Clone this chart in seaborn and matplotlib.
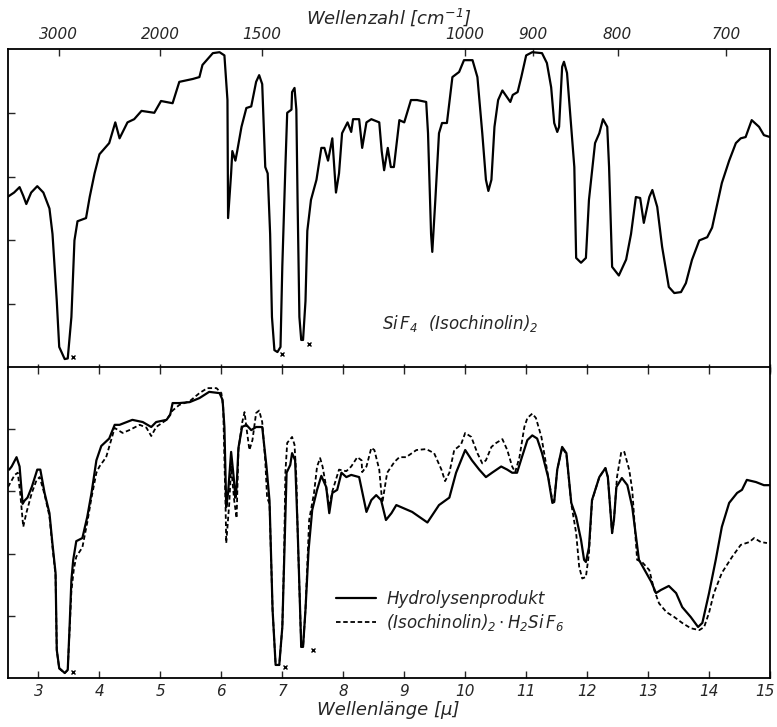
import seaborn as sns
import matplotlib.pyplot as plt
import matplotlib.transforms as mtransforms
import pandas as pd
import numpy as np

# -----------------------------------------
# Spectrum data (wavelength in micron, transmission in %)
# -----------------------------------------

top_um = [2.49, 2.60, 2.69, 2.75, 2.80, 2.88, 2.98, 3.08, 3.18, 3.23, 3.30, 3.34, 3.43, 3.48,
          3.54, 3.59, 3.64, 3.78, 3.84, 3.92, 4.00, 4.16, 4.26, 4.33, 4.46, 4.57, 4.69, 4.90,
          5.01, 5.20, 5.31, 5.53, 5.64, 5.69, 5.86, 5.97, 6.05, 6.10, 6.11, 6.16, 6.18, 6.23,
          6.26, 6.33, 6.41, 6.49, 6.57, 6.62, 6.67, 6.72, 6.76, 6.80, 6.83, 6.87, 6.92, 6.97,
          7.00, 7.05, 7.08, 7.15, 7.16, 7.20, 7.23, 7.25, 7.28, 7.31, 7.34, 7.38, 7.41, 7.47,
          7.56, 7.64, 7.69, 7.75, 7.82, 7.88, 7.93, 7.98, 8.07, 8.13, 8.16, 8.26, 8.31, 8.38,
          8.46, 8.59, 8.63, 8.67, 8.73, 8.78, 8.83, 8.92, 9.00, 9.11, 9.21, 9.36, 9.39, 9.44,
          9.46, 9.51, 9.57, 9.62, 9.70, 9.79, 9.90, 9.98, 10.12, 10.20, 10.28, 10.34, 10.38,
          10.43, 10.48, 10.54, 10.61, 10.74, 10.78, 10.86, 10.92, 11.00, 11.10, 11.26, 11.34,
          11.41, 11.46, 11.51, 11.54, 11.59, 11.62, 11.67, 11.79, 11.82, 11.90, 11.98, 12.03,
          12.13, 12.20, 12.26, 12.33, 12.36, 12.41, 12.52, 12.64, 12.72, 12.80, 12.87, 12.93,
          13.02, 13.07, 13.15, 13.23, 13.34, 13.43, 13.54, 13.62, 13.72, 13.84, 13.97, 14.05,
          14.16, 14.21, 14.33, 14.44, 14.52, 14.60, 14.70, 14.82, 14.90, 15.00]
top_T = [53.6, 55, 56.7, 54, 51.4, 55, 57, 55, 50, 42, 21, 6.6, 2.8, 3,
         16, 40, 46, 47, 53.6, 61, 67, 70.5, 77, 72, 77, 78, 80.6, 80,
         83.7, 83, 89.7, 90.6, 91.2, 95, 98.7, 99, 98, 84, 47, 61, 68, 65,
         68, 75.6, 81.5, 82, 89.7, 91.8, 89, 63, 61, 42, 16, 5.6, 5, 6.6,
         32, 63, 80, 81, 86.5, 87.8, 81, 52.7, 16, 8.8, 8.8, 21, 43, 52.7,
         59, 69, 69, 65, 72, 55, 61, 73.6, 77, 74, 78, 78, 69, 77,
         78, 77, 68, 62, 69, 63, 63, 77.7, 77, 84, 84, 83.4, 73.6, 42,
         36.4, 52.7, 73.6, 76.8, 76.8, 91.2, 92.8, 96.5, 96.5, 91.2, 73.6, 59, 55.5,
         59, 75.6, 84, 87, 83.4, 85.6, 86.5, 91.2, 98, 99, 98.7, 95.6,
         88, 76.8, 74, 75.6, 94.4, 96, 92.5, 63, 34.5, 33, 34.5, 52.7,
         70.5, 73.6, 78, 75.6, 63, 31.7, 29, 34, 42, 53.6, 53.3, 45.5,
         53.6, 55.8, 50.5, 38, 25.4, 23.5, 23.8, 26.6, 33.9, 40, 41, 44,
         53.6, 58, 65, 70.5, 72, 72.4, 77.7, 75.6, 73, 72.4]

hyd_um = [2.52, 2.56, 2.64, 2.69, 2.74, 2.77, 2.82, 2.89, 2.98, 3.03, 3.10, 3.18, 3.23, 3.28,
          3.30, 3.34, 3.43, 3.48, 3.51, 3.54, 3.57, 3.62, 3.72, 3.80, 3.87, 3.95, 4.03, 4.16,
          4.25, 4.33, 4.54, 4.71, 4.85, 4.93, 5.10, 5.16, 5.20, 5.31, 5.48, 5.64, 5.80, 5.97,
          6.02, 6.05, 6.08, 6.11, 6.16, 6.20, 6.23, 6.25, 6.28, 6.34, 6.41, 6.49, 6.57, 6.67,
          6.74, 6.79, 6.84, 6.89, 6.95, 7.00, 7.03, 7.07, 7.13, 7.16, 7.21, 7.25, 7.31, 7.34,
          7.38, 7.43, 7.49, 7.57, 7.64, 7.72, 7.77, 7.82, 7.90, 7.97, 8.05, 8.13, 8.26, 8.38,
          8.46, 8.54, 8.62, 8.70, 8.79, 8.87, 9.13, 9.38, 9.57, 9.74, 9.85, 10.00, 10.11, 10.23,
          10.34, 10.44, 10.59, 10.69, 10.77, 10.85, 10.93, 11.02, 11.10, 11.18, 11.26, 11.36,
          11.43, 11.46, 11.51, 11.59, 11.66, 11.74, 11.82, 11.90, 11.95, 11.98, 12.03, 12.08,
          12.20, 12.30, 12.34, 12.39, 12.41, 12.44, 12.48, 12.57, 12.66, 12.74, 12.85, 12.97,
          13.05, 13.13, 13.21, 13.34, 13.46, 13.56, 13.70, 13.82, 13.89, 14.00, 14.11, 14.21,
          14.33, 14.46, 14.54, 14.62, 14.77, 14.90, 15.00]
hyd_T = [67, 68, 71, 68, 56, 57, 58, 61.4, 67, 67, 59.5, 53, 43, 33.8,
         9, 3.2, 1.6, 2.6, 16.4, 31.5, 38, 44, 45, 51.8, 59.5, 70, 74.6, 77,
         81.4, 81.4, 83, 82.3, 80.7, 82.3, 83, 84.6, 88.4, 88.4, 88.7, 90, 92, 91.6,
         89.4, 80.7, 55, 59.5, 72.7, 65, 58, 61.4, 74, 80.7, 81.4, 79.7, 80.7, 80.7,
         68, 57, 22, 4.2, 4.2, 16.4, 38, 66, 68.5, 72.3, 70, 48.6, 10, 10,
         22, 41, 54, 60.5, 65, 61.4, 53, 59.5, 60.5, 66, 64.6, 65.3, 64.6, 53.4,
         57.2, 58.8, 57.2, 50.8, 53, 55.6, 53.4, 50, 55.6, 58, 66, 73.3, 70, 67,
         64.6, 66, 68, 67, 66, 66, 71, 76.5, 78, 77, 72.3, 64.6,
         56.3, 56.6, 67, 74.3, 72.3, 56.3, 51.8, 44.4, 38, 37.3, 42, 57.2,
         64.6, 67.5, 64.6, 51.8, 46.6, 50.8, 61.4, 64.3, 62, 55, 38, 33.8,
         31, 27.3, 28.3, 29.6, 27.3, 22.8, 19.6, 16.4, 17.7, 27.3, 38, 48.6,
         56.3, 59.5, 60.5, 63.7, 63, 62, 62]

iso_um = [2.50, 2.61, 2.66, 2.70, 2.75, 2.80, 2.89, 2.97, 3.02, 3.10, 3.18, 3.23, 3.28, 3.30,
          3.34, 3.43, 3.48, 3.51, 3.54, 3.58, 3.62, 3.72, 3.80, 3.87, 3.95, 4.00, 4.11, 4.20,
          4.25, 4.38, 4.49, 4.66, 4.77, 4.85, 4.93, 5.10, 5.20, 5.31, 5.48, 5.64, 5.77, 5.92,
          6.00, 6.03, 6.07, 6.08, 6.13, 6.16, 6.21, 6.25, 6.28, 6.34, 6.38, 6.41, 6.46, 6.51,
          6.57, 6.62, 6.67, 6.72, 6.75, 6.79, 6.84, 6.89, 6.95, 7.00, 7.03, 7.05, 7.08, 7.16,
          7.20, 7.23, 7.25, 7.31, 7.34, 7.38, 7.44, 7.52, 7.57, 7.62, 7.66, 7.72, 7.77, 7.82,
          7.93, 8.05, 8.13, 8.23, 8.30, 8.31, 8.38, 8.46, 8.51, 8.59, 8.64, 8.72, 8.84, 8.92,
          9.03, 9.20, 9.36, 9.49, 9.61, 9.67, 9.74, 9.82, 9.93, 10.00, 10.10, 10.20, 10.28,
          10.34, 10.43, 10.51, 10.61, 10.69, 10.77, 10.82, 10.89, 10.97, 11.02, 11.10, 11.16,
          11.25, 11.36, 11.43, 11.46, 11.51, 11.59, 11.66, 11.74, 11.82, 11.87, 11.92, 11.98,
          12.03, 12.08, 12.20, 12.30, 12.34, 12.39, 12.41, 12.44, 12.49, 12.56, 12.61, 12.69,
          12.74, 12.82, 12.90, 13.02, 13.10, 13.18, 13.30, 13.43, 13.56, 13.70, 13.84, 13.92,
          14.00, 14.08, 14.21, 14.38, 14.52, 14.66, 14.74, 14.85, 14.95]
iso_T = [61.4, 65.3, 66, 59.5, 48.6, 53, 59.5, 63.7, 64.6, 59, 52, 42, 33, 9,
         3, 1.6, 2.6, 15, 28, 35, 39, 42, 50, 58, 66, 68, 71, 77,
         80.4, 78.8, 79.7, 81.4, 80.5, 77.8, 80.7, 83, 86, 87.8, 89, 91.6, 93.2, 93.2,
         91.6, 87, 54, 43.4, 56.3, 68, 57.2, 51.4, 73.3, 82, 85.5, 80.7, 73.3, 76.5,
         85.2, 86, 82.3, 70, 58, 56, 22, 4.2, 4.2, 16.4, 40, 66, 75.6, 77.5,
         75, 64.6, 48, 10, 10, 22, 50.8, 59.5, 68, 70.7, 68, 61.4, 55, 60,
         67, 66.5, 68, 71, 70, 66.2, 68, 74, 73.3, 67, 56.3, 66, 69.5, 71,
         71, 73.3, 73.6, 72.3, 67, 63.3, 66, 73.3, 75, 78.8, 77.5, 72.3, 69,
         70, 74.3, 75.6, 76.8, 73.3, 68, 66.2, 71, 80.7, 83.6, 85, 83.6,
         77.5, 65, 57, 57, 67, 74, 72, 56, 46.6, 35.7, 32, 32.5,
         40, 57, 64.6, 67.5, 64.6, 51.8, 46.6, 50.8, 64.6, 72.7, 72.7, 67,
         60.5, 38, 37.3, 34.7, 28.3, 24, 21.2, 19.6, 17.7, 16, 15.4, 16.4,
         21, 27.3, 33.8, 39, 42.8, 43.7, 45, 43.7, 43.4]

# small "x" marks next to the strongest bands
top_mark_um = [3.56, 7.00, 7.44]
top_mark_T = [3.4, 4.4, 7.5]
bot_mark_um = [3.56, 7.04, 7.50]
bot_mark_T = [2.0, 3.6, 9.0]

um_ticks = list(range(3, 16))
wn_ticks = [3000, 2000, 1500, 1000, 900, 800, 700]

top_df = pd.DataFrame({"um": top_um, "T": top_T})
hyd_df = pd.DataFrame({"um": hyd_um, "T": hyd_T})
iso_df = pd.DataFrame({"um": iso_um, "T": iso_T})

# -----------------------------------------
# Styling
# -----------------------------------------

sns.set_style("white")
plt.rcParams["font.family"] = ["DejaVu Sans"]
plt.rcParams["font.style"] = "italic"
plt.rcParams["mathtext.default"] = "it"

fig = plt.figure(figsize=(7.77, 7.27), dpi=100)
ax1 = fig.add_axes([0.0103, 0.4938, 0.9807, 0.4388])
ax2 = fig.add_axes([0.0103, 0.0674, 0.9807, 0.4278])

for ax in (ax1, ax2):
    ax.set_xlim(2.5, 15)
    ax.set_ylim(0, 100)
    ax.set_yticks([20, 40, 60, 80])
    ax.set_yticklabels([])
    ax.set_xticks(um_ticks)
    for sp in ax.spines.values():
        sp.set_linewidth(1.3)
        sp.set_color("black")
    ax.tick_params(axis="y", direction="in", length=5, width=1, left=True)

# upper spectrum
sns.lineplot(data=top_df, x="um", y="T", ax=ax1, color="black", linewidth=1.6,
             sort=False, estimator=None)
ax1.plot(top_mark_um, top_mark_T, "x", color="black", markersize=3, mew=1)
ax1.tick_params(axis="x", direction="inout", length=6, width=1, bottom=True,
                labelbottom=False)
ax1.set_xlabel("")
ax1.set_ylabel("")
ax1.text(0.593, 0.14, r"$Si\,F_4\ \ (Isochinolin)_2$", transform=ax1.transAxes,
         ha="center", va="center", fontsize=12)

sec = ax1.secondary_xaxis("top", functions=(lambda x: 1e4 / np.asarray(x, float),
                                            lambda x: 1e4 / np.asarray(x, float)))
sec.set_xticks(wn_ticks)
sec.set_xticklabels([str(t) for t in wn_ticks], fontsize=11)
sec.tick_params(axis="x", direction="in", length=5, width=1, pad=5)
sec.spines["top"].set_visible(False)

# lower spectra
sns.lineplot(data=hyd_df, x="um", y="T", ax=ax2, color="black", linewidth=1.6,
             sort=False, estimator=None, label="Hydrolysenprodukt")
sns.lineplot(data=iso_df, x="um", y="T", ax=ax2, color="black", linewidth=1.3,
             linestyle=(0, (2.5, 1.5)), sort=False, estimator=None,
             label=r"$(Isochinolin)_2 \cdot H_2Si\,F_6$")
ax2.plot(bot_mark_um, bot_mark_T, "x", color="black", markersize=3, mew=1)
ax2.set_xticklabels([str(t) for t in um_ticks], fontsize=11)
ax2.tick_params(axis="x", direction="in", length=5, width=1, bottom=True, top=True,
                pad=4)
# keep the last label inside the picture
last = ax2.get_xticklabels()[-1]
last.set_transform(last.get_transform() +
                   mtransforms.ScaledTranslation(-5 / 100, 0, fig.dpi_scale_trans))
ax2.set_xlabel("")
ax2.set_ylabel("")
ax2.legend(loc="upper left", bbox_to_anchor=(0.42, 0.31), frameon=False,
           fontsize=12, handlelength=2.4, handletextpad=0.6, labelspacing=0.25,
           borderpad=0)

fig.text(0.5, 0.977, r"Wellenzahl [cm$^{-1}$]", ha="center", va="center", fontsize=13)
fig.text(0.5, 0.024, "Wellenlänge [µ]", ha="center", va="center", fontsize=13)

plt.savefig("out.png", dpi=100)
